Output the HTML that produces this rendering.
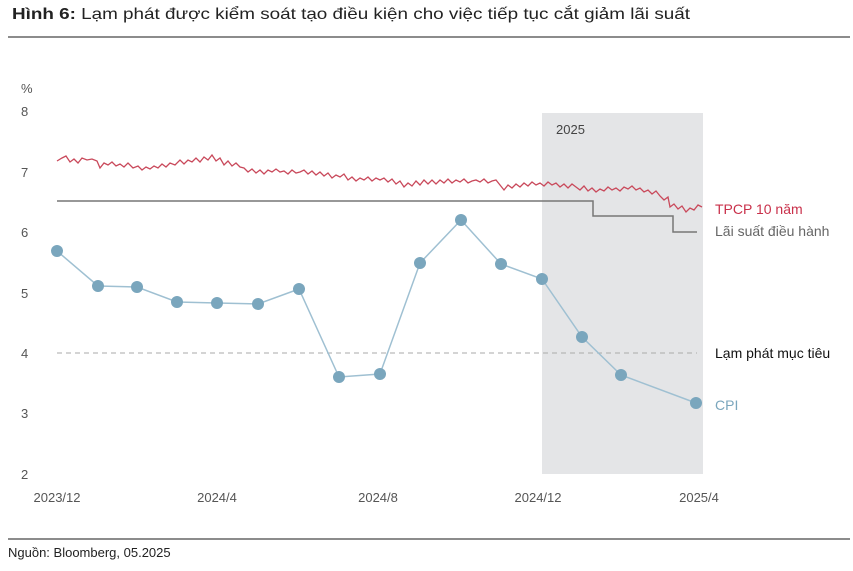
<!DOCTYPE html>
<html><head><meta charset="utf-8"><style>
body{margin:0;background:#fff;width:853px;height:566px;overflow:hidden}
text{font-family:"Liberation Sans",sans-serif}
</style></head><body>
<svg width="853" height="566" viewBox="0 0 853 566" xmlns="http://www.w3.org/2000/svg">
<text x="12" y="19" font-size="16" fill="#222" textLength="678" lengthAdjust="spacingAndGlyphs"><tspan font-weight="bold">Hình 6:</tspan> Lạm phát được kiểm soát tạo điều kiện cho việc tiếp tục cắt giảm lãi suất</text>
<line x1="8" y1="37" x2="850" y2="37" stroke="#666" stroke-width="1.5"/>
<rect x="542" y="113" width="161" height="361" fill="#e4e5e7"/>
<text x="556" y="134" font-size="13" fill="#444">2025</text>
<g font-size="13" fill="#555">
<text x="21" y="93">%</text>
<text x="21" y="116">8</text><text x="21" y="177">7</text><text x="21" y="237">6</text>
<text x="21" y="298">5</text><text x="21" y="358">4</text><text x="21" y="418">3</text><text x="21" y="479">2</text>
<text x="57" y="502" text-anchor="middle">2023/12</text>
<text x="217" y="502" text-anchor="middle">2024/4</text>
<text x="378" y="502" text-anchor="middle">2024/8</text>
<text x="538" y="502" text-anchor="middle">2024/12</text>
<text x="699" y="502" text-anchor="middle">2025/4</text>
</g>
<line x1="57" y1="353" x2="697" y2="353" stroke="#aaa" stroke-dasharray="5,4"/>
<polyline points="57,201 593,201 593,216 673,216 673,232 697,232" fill="none" stroke="#777" stroke-width="1.5"/>
<polyline fill="none" stroke="#c9495b" stroke-width="1.3" points="57,161 62,158 66,156 70,162 74,159 78,163 82,158 87,160 92,159 97,161 100,168 104,163 108,165 112,162 116,166 120,164 124,167 128,163 133,168 138,166 142,170 146,167 150,169 154,166 158,168 162,164 166,167 170,163 175,165 180,160 184,164 188,160 192,162 196,158 200,162 204,157 208,160 212,155 216,161 220,158 224,165 228,161 232,166 236,163 240,167 244,168 248,172 252,169 256,173 260,170 264,174 268,170 272,172 276,169 280,172 284,171 288,174 292,170 296,173 300,172 304,170 308,174 312,171 316,175 320,172 324,176 328,173 332,178 336,175 340,177 344,174 348,180 352,177 356,181 360,178 364,180 368,177 372,181 376,178 380,180 384,178 388,182 392,179 396,184 400,181 404,187 408,183 412,186 416,181 420,185 424,180 428,184 432,180 436,184 440,180 444,183 448,179 452,183 456,180 460,182 464,179 468,183 472,181 476,180 480,182 484,179 488,183 492,181 496,180 500,185 504,190 508,185 512,188 516,184 520,187 524,183 528,186 532,182 536,185 540,183 544,186 548,182 552,185 556,183 560,187 564,184 568,188 572,184 576,187 580,190 584,186 588,191 592,188 596,192 600,189 604,191 608,187 612,190 616,188 620,191 624,187 628,189 632,186 636,190 640,188 644,192 648,190 652,194 656,191 660,196 664,200 668,197 670,207 674,204 678,209 682,206 686,212 690,208 694,210 698,205 702,207"/>
<polyline points="57,251 98,286 137,287 177,302 217,303 258,304 299,289 339,377 380,374 420,263 461,220 501,264 542,279 582,337 621,375 696,403" fill="none" stroke="#9fc0d2" stroke-width="1.5"/>
<g fill="#7aa6bd">
<circle cx="57" cy="251" r="6"/><circle cx="98" cy="286" r="6"/><circle cx="137" cy="287" r="6"/><circle cx="177" cy="302" r="6"/><circle cx="217" cy="303" r="6"/><circle cx="258" cy="304" r="6"/><circle cx="299" cy="289" r="6"/><circle cx="339" cy="377" r="6"/><circle cx="380" cy="374" r="6"/><circle cx="420" cy="263" r="6"/><circle cx="461" cy="220" r="6"/><circle cx="501" cy="264" r="6"/><circle cx="542" cy="279" r="6"/><circle cx="582" cy="337" r="6"/><circle cx="621" cy="375" r="6"/><circle cx="696" cy="403" r="6"/>
</g>
<text x="715" y="214" font-size="14" fill="#c9304a">TPCP 10 năm</text>
<text x="715" y="236" font-size="14" fill="#666">Lãi suất điều hành</text>
<text x="715" y="358" font-size="14" fill="#111">Lạm phát mục tiêu</text>
<text x="715" y="410" font-size="14" fill="#7aa6bd">CPI</text>
<line x1="8" y1="539" x2="850" y2="539" stroke="#666" stroke-width="1.5"/>
<text x="8" y="557" font-size="13" fill="#222">Nguồn: Bloomberg, 05.2025</text>
</svg>
</body></html>
